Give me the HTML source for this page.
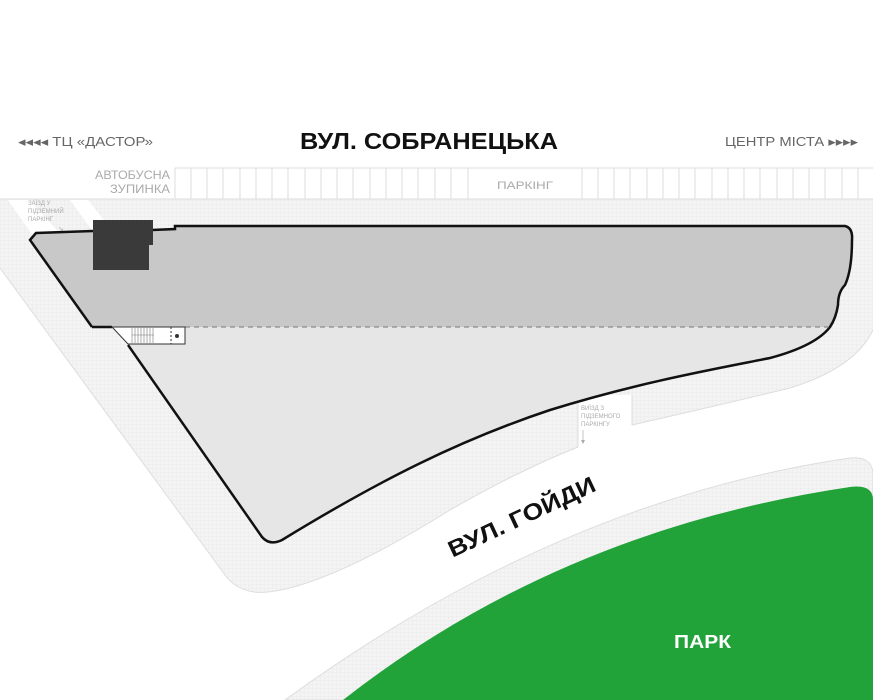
<!DOCTYPE html>
<html><head><meta charset="utf-8"><style>
html,body{margin:0;padding:0;background:#fff;}
svg{display:block;}
text{font-family:"Liberation Sans",sans-serif;}
</style></head><body>
<svg width="873" height="700" viewBox="0 0 873 700" xmlns="http://www.w3.org/2000/svg">
<defs>
<pattern id="g" width="4" height="4" patternUnits="userSpaceOnUse">
<rect width="4" height="4" fill="#f4f4f4"/>
<path d="M0 0.5H4M0.5 0V4" stroke="#ebebeb" stroke-width="0.5"/>
</pattern>
</defs>
<!-- sidewalks -->
<path d="M0 199 L873 199 L873 330 Q855 368 790 388 Q720 405 632 425 L632 420 L578 420 L578 447 Q520 470 450 510 Q330 585 268 592 Q240 595 225 575 L0 268 Z" fill="url(#g)"/>
<path d="M0 199 L873 199" stroke="#ddd" fill="none"/>
<path d="M0 268 L225 575 Q240 595 268 592 Q330 585 450 510 Q520 470 578 447 M632 425 Q720 405 790 388 Q855 368 873 330" stroke="#ddd" fill="none"/>
<!-- parking row -->
<g stroke="#ddd" stroke-width="1" fill="none">
<line x1="175" y1="168" x2="873" y2="168"/>
<path d="M175 168V199M191 168V199M207 168V199M223 168V199M240 168V199M256 168V199M272 168V199M288 168V199M305 168V199M321 168V199M337 168V199M353 168V199M370 168V199M386 168V199M402 168V199M418 168V199M435 168V199M451 168V199M468 168V199M582 168V199M598 168V199M614 168V199M630 168V199M647 168V199M663 168V199M679 168V199M695 168V199M712 168V199M728 168V199M744 168V199M760 168V199M777 168V199M793 168V199M809 168V199M825 168V199M842 168V199M858 168V199"/>
</g>
<!-- ramp white -->
<path d="M8 200 L30 200 L62 236 L36 240 Z" fill="#fff"/>
<path d="M70 200 L88 200 L118 238 L98 238 Z" fill="#fff"/>
<!-- exit gap -->
<rect x="578" y="395" width="54" height="60" fill="#fff"/>
<line x1="578" y1="400" x2="578" y2="447" stroke="#ddd"/>
<line x1="632" y1="395" x2="632" y2="425" stroke="#ddd"/>
<!-- park sidewalk -->
<path d="M285 700 Q560 500 850 458 Q873 456 873 475 L873 700 Z" fill="url(#g)" stroke="#ddd"/>
<path d="M343 700 Q560 530 850 487 Q873 484 873 500 L873 700 Z" fill="#22a33a"/>
<!-- building lower light area -->
<path d="M92 327 L830 327 C820 340 800 350 770 358 C720 368 640 382 550 410 C460 440 380 480 282 540 Q270 546 262 537 L128 345 L112 327 Z" fill="#e6e6e6"/>
<!-- building upper gray -->
<path d="M30 240 L36 233 L175 229 L175 226 L845 226 Q853 228 852 240 Q852 270 845 285 Q838 292 838 305 Q836 318 830 327 L92 327 Z" fill="#c8c8c8"/>
<!-- outlines -->
<path d="M92 327 L30 240 L36 233 L93 231 M152 230 L175 229 L175 226 L845 226 Q853 228 852 240 Q852 270 845 285 Q838 292 838 305 Q836 318 830 327 C820 340 800 350 770 358 C720 368 640 382 550 410 C460 440 380 480 282 540 Q270 546 262 537 L128 345" fill="none" stroke="#111" stroke-width="2.5"/>
<line x1="92" y1="327" x2="112" y2="327" stroke="#111" stroke-width="2.5"/>
<line x1="185" y1="327" x2="830" y2="327" stroke="#777" stroke-width="1" stroke-dasharray="5 4"/>
<!-- stair block -->
<path d="M112 327 L185 327 L185 344 L128 344 Z" fill="#fff" stroke="#333" stroke-width="1"/>
<g stroke="#777" stroke-width="0.6"><path d="M132 328V343M135 328V343M138 328V343M141 328V343M144 328V343M147 328V343M150 328V343M153 328V343M132 335H154"/></g>
<line x1="171" y1="327" x2="171" y2="344" stroke="#333" stroke-dasharray="2 2"/>
<circle cx="177" cy="336" r="2" fill="#333"/>
<!-- dark block -->
<path d="M93 220 L153 220 L153 245 L149 245 L149 270 L93 270 Z" fill="#3a3a3a"/>
<!-- texts -->
<text x="300" y="149" font-size="23" font-weight="bold" fill="#111" textLength="258" lengthAdjust="spacingAndGlyphs">ВУЛ. СОБРАНЕЦЬКА</text>
<text x="18" y="146" font-size="13" fill="#666" textLength="135" lengthAdjust="spacingAndGlyphs">◂◂◂◂ ТЦ «ДАСТОР»</text>
<text x="725" y="146" font-size="13" fill="#666" textLength="133" lengthAdjust="spacingAndGlyphs">ЦЕНТР МІСТА ▸▸▸▸</text>
<text x="95" y="179" font-size="12" fill="#aaa" textLength="75" lengthAdjust="spacingAndGlyphs">АВТОБУСНА</text>
<text x="110" y="193" font-size="12" fill="#aaa" textLength="60" lengthAdjust="spacingAndGlyphs">ЗУПИНКА</text>
<text x="497" y="189" font-size="11" fill="#aaa" textLength="56" lengthAdjust="spacingAndGlyphs">ПАРКІНГ</text>
<text x="28" y="205" font-size="6" fill="#aaa">ЗАЇЗД У</text>
<text x="28" y="213" font-size="6" fill="#aaa">ПІДЗЕМНИЙ</text>
<text x="28" y="221" font-size="6" fill="#aaa">ПАРКІНГ</text>
<text x="58" y="231" font-size="7" fill="#aaa">↘</text>
<text x="581" y="410" font-size="6" fill="#aaa">ВИЇЗД З</text>
<text x="581" y="418" font-size="6" fill="#aaa">ПІДЗЕМНОГО</text>
<text x="581" y="426" font-size="6" fill="#aaa">ПАРКІНГУ</text>
<line x1="583" y1="430" x2="583" y2="442" stroke="#aaa" stroke-width="0.7"/>
<path d="M581 440 L583 444 L585 440 Z" fill="#aaa"/>
<text x="-80" y="0" font-size="23" font-weight="bold" fill="#111" textLength="160" lengthAdjust="spacingAndGlyphs" transform="translate(525,524) rotate(-25)">ВУЛ. ГОЙДИ</text>
<text x="674" y="648" font-size="18" font-weight="bold" fill="#fff" textLength="57" lengthAdjust="spacingAndGlyphs">ПАРК</text>
</svg>
</body></html>
